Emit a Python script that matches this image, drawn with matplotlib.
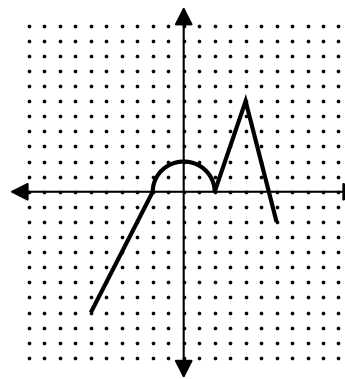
import numpy as np
import matplotlib
matplotlib.use("Agg")
import matplotlib.pyplot as plt

# grid of dots
grid_x = np.arange(-10, 11)
grid_y = np.arange(-11, 12)

# piecewise graph
left_seg_x = [-6, -2]
left_seg_y = [-8, 0]
arc_center = (0, 0)
arc_radius = 2
right_seg_x = [2, 4, 6]
right_seg_y = [0, 6, -2]

# axis extents (arrow tips)
x_axis_ends = [-11.22, 11.45]
y_axis_ends = [-12.36, 12.25]

fig = plt.figure(figsize=(3.45, 3.79), dpi=100)
ax = fig.add_axes([0, 0, 1, 1])
ax.set_xlim(-11.867, 10.42)
ax.set_ylim(-12.40, 12.70)
ax.axis("off")

gx, gy = np.meshgrid(grid_x, grid_y)
ax.scatter(gx.ravel(), gy.ravel(), s=7, c="black", linewidths=0, zorder=1)

astyle = "<|-|>,head_length=0.55,head_width=0.28"
ax.annotate("", xy=(x_axis_ends[1], 0), xytext=(x_axis_ends[0], 0),
            arrowprops=dict(arrowstyle=astyle, mutation_scale=20, lw=1.5,
                            color="black", shrinkA=0, shrinkB=0),
            annotation_clip=False, zorder=2)
ax.annotate("", xy=(0, y_axis_ends[1]), xytext=(0, y_axis_ends[0]),
            arrowprops=dict(arrowstyle=astyle, mutation_scale=20, lw=1.5,
                            color="black", shrinkA=0, shrinkB=0),
            annotation_clip=False, zorder=2)

lw = 3.0
ax.plot(left_seg_x, left_seg_y, color="black", lw=lw, solid_capstyle="butt", zorder=3)
t = np.linspace(np.pi, 0, 100)
ax.plot(arc_center[0] + arc_radius * np.cos(t), arc_center[1] + arc_radius * np.sin(t),
        color="black", lw=lw, solid_capstyle="butt", zorder=3)
ax.plot(right_seg_x, right_seg_y, color="black", lw=lw, solid_capstyle="butt",
        solid_joinstyle="miter", zorder=3)

fig.savefig("out.png", dpi=100)
